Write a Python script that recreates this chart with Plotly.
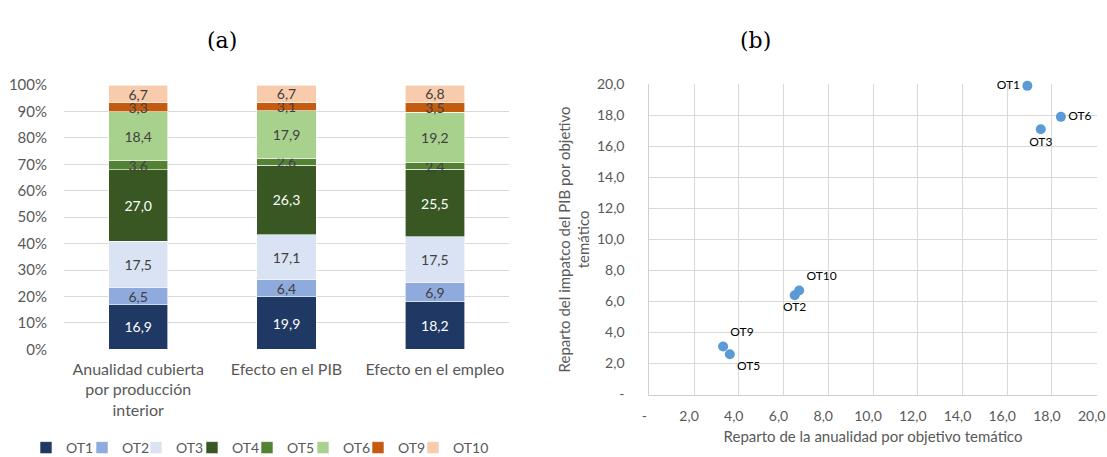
import plotly.graph_objects as go

categories = ["Anualidad cubierta<br>por producción<br>interior", "Efecto en el PIB", "Efecto en el empleo"]
series_names = ["OT1", "OT2", "OT3", "OT4", "OT5", "OT6", "OT9", "OT10"]
ot1 = [16.9, 19.9, 18.2]
ot2 = [6.5, 6.4, 6.9]
ot3 = [17.5, 17.1, 17.5]
ot4 = [27.0, 26.3, 25.5]
ot5 = [3.6, 2.6, 2.4]
ot6 = [18.4, 17.9, 19.2]
ot9 = [3.3, 3.1, 3.5]
ot10 = [6.7, 6.7, 6.8]
series_values = [ot1, ot2, ot3, ot4, ot5, ot6, ot9, ot10]
colors = ["#203864", "#8FAADC", "#DAE3F3", "#385723", "#548235", "#A9D18E", "#C55A11", "#F8CBAD"]
text_colors = ["white", "#404040", "#404040", "white", "#404040", "#404040", "#404040", "#404040"]

pct_ticks = [0, 10, 20, 30, 40, 50, 60, 70, 80, 90, 100]
sc_ticks = [0, 2, 4, 6, 8, 10, 12, 14, 16, 18, 20]
sc_ticktext = ["-"] + [f"{v:.1f}".replace(".", ",") for v in sc_ticks[1:]]
label_pos = ["middle left", "bottom center", "bottom center", "middle center", "bottom right", "middle right", "top right", "top right"]

FONT = "Lato, Open Sans, sans-serif"
GRAY = "#595959"
W, H = 1107, 457

# legend symbol centres (px) for each series
legend_px = [46, 102, 156, 212, 267, 323, 378, 433]
legend_ids = ["legend"] + [f"legend{i}" for i in range(2, 9)]

fig = go.Figure()
for name, vals, col, tc, lid in zip(series_names, series_values, colors, text_colors, legend_ids):
    fig.add_trace(go.Bar(
        x=categories, y=vals, name=name, marker=dict(color=col, line=dict(color="white", width=0.6)),
        text=[f"{v:.1f}".replace(".", ",") for v in vals], textposition="inside",
        insidetextanchor="middle", textangle=0, constraintext="none",
        textfont=dict(color=tc, size=14, family=FONT), xaxis="x", yaxis="y",
        legend=lid,
    ))

# scatter: x = annuity share, y = PIB share
sc_names = [n for n in series_names if n != "OT4"]
sc_x = [v[0] for n, v in zip(series_names, series_values) if n != "OT4"]
sc_y = [v[1] for n, v in zip(series_names, series_values) if n != "OT4"]
sc_pos = [p for n, p in zip(series_names, label_pos) if n != "OT4"]
fig.add_trace(go.Scatter(
    x=sc_x, y=sc_y, mode="markers+text", text=sc_names, textposition=sc_pos,
    marker=dict(color="#5B9BD5", size=10), textfont=dict(color="black", size=12, family=FONT),
    showlegend=False, xaxis="x2", yaxis="y2", cliponaxis=False,
))

legends = {}
for lid, px in zip(legend_ids, legend_px):
    legends[lid] = dict(orientation="h", x=(px - 20) / W, xanchor="left", y=1 - 448 / H, yanchor="middle",
                        font=dict(size=14, color=GRAY, family=FONT), itemwidth=30,
                        bgcolor="rgba(0,0,0,0)")

fig.update_layout(
    width=W, height=H, margin=dict(l=0, r=0, t=0, b=0, autoexpand=False),
    paper_bgcolor="white", plot_bgcolor="white",
    barmode="stack", bargap=0.6,
    uniformtext=dict(minsize=14, mode="show"),
    font=dict(family=FONT, color=GRAY),
    xaxis=dict(domain=[64 / W, 509 / W], anchor="y", showgrid=False, showline=False, automargin=False,
               tickfont=dict(size=16, color=GRAY), ticks="outside", ticklen=5, tickcolor="rgba(0,0,0,0)"),
    yaxis=dict(domain=[1 - 349.3 / H, 1 - 85 / H], anchor="x", range=[0, 100], tickvals=pct_ticks, automargin=False,
               ticktext=[f"{v}%" for v in pct_ticks], showgrid=True, gridcolor="#D9D9D9",
               zeroline=False, tickfont=dict(size=15, color=GRAY),
               ticks="outside", ticklen=13, tickcolor="rgba(0,0,0,0)"),
    xaxis2=dict(domain=[649.3 / W, 1096.7 / W], anchor="y2", range=[0, 20], tickvals=sc_ticks, ticktext=sc_ticktext,
                showgrid=True, gridcolor="#D9D9D9", zeroline=False, showline=True, linecolor="#D0D0D0",
                automargin=False, ticklabeloverflow="allow", ticklabelshift=-5,
                tickfont=dict(size=14, color=GRAY), ticks="outside", ticklen=9, tickcolor="rgba(0,0,0,0)",
                title=dict(text="Reparto de la anualidad por objetivo temático", font=dict(size=15, color=GRAY), standoff=8)),
    yaxis2=dict(domain=[1 - 394.5 / H, 1 - 84.3 / H], anchor="x2", range=[0, 20], tickvals=sc_ticks, ticktext=sc_ticktext,
                showgrid=True, gridcolor="#D9D9D9", zeroline=False, showline=True, linecolor="#D0D0D0",
                automargin=False,
                tickfont=dict(size=14, color=GRAY), ticks="outside", ticklen=21, tickcolor="rgba(0,0,0,0)",
                title=dict(text="Reparto del impatco del PIB por objetivo<br>temático", font=dict(size=15, color=GRAY), standoff=3)),
    annotations=[
        dict(text="(a)", x=205 / W, y=1 - 26 / H, xref="paper", yref="paper", showarrow=False,
             font=dict(family="DejaVu Serif, serif", size=22, color="black")),
        dict(text="(b)", x=773 / W, y=1 - 26 / H, xref="paper", yref="paper", showarrow=False,
             font=dict(family="DejaVu Serif, serif", size=22, color="black")),
    ],
    **legends,
)

fig.write_html("out.html", config={"displayModeBar": False},
               post_script="document.body.style.margin='0';")
